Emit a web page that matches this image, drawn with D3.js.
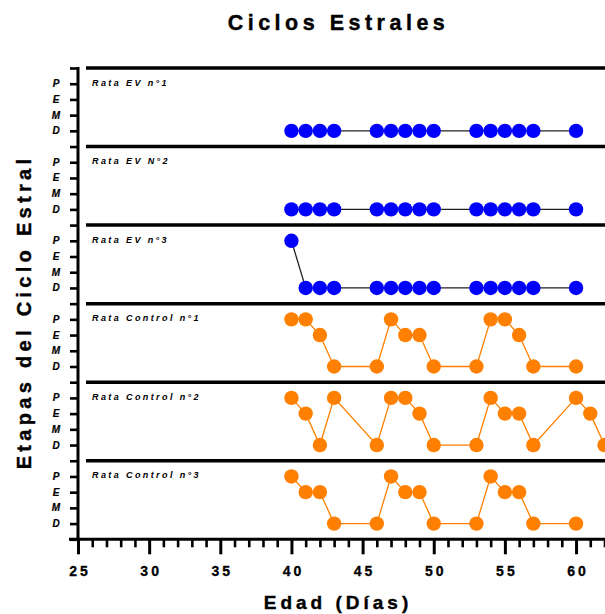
<!DOCTYPE html>
<html>
<head>
<meta charset="utf-8">
<script src="https://cdn.jsdelivr.net/npm/d3@7"></script>
<style>
html,body{margin:0;padding:0;background:#fff;}
svg{display:block;font-family:"Liberation Sans",Arial,sans-serif;}
</style>
</head>
<body>
<svg id="chart" width="605" height="614"></svg>
<script>
// ---- data ----
const panelNames = ["Rata EV n°1","Rata EV N°2","Rata EV n°3","Rata Control n°1","Rata Control n°2","Rata Control n°3"];
const stageLabels = ["D","M","E","P"];           // stage code 1..4
const xTickLabels = [25,30,35,40,45,50,55,60];

const daysEV1 = [40,41,42,43,46,47,48,49,50,53,54,55,56,57,60];
const stageEV1 = ["D","D","D","D","D","D","D","D","D","D","D","D","D","D","D"];
const daysEV2 = [40,41,42,43,46,47,48,49,50,53,54,55,56,57,60];
const stageEV2 = ["D","D","D","D","D","D","D","D","D","D","D","D","D","D","D"];
const daysEV3 = [40,41,42,43,46,47,48,49,50,53,54,55,56,57,60];
const stageEV3 = ["P","D","D","D","D","D","D","D","D","D","D","D","D","D","D"];
const daysC1 = [40,41,42,43,46,47,48,49,50,53,54,55,56,57,60];
const stageC1 = ["P","P","E","D","D","P","E","E","D","D","P","P","E","D","D"];
const daysC2 = [40,41,42,43,46,47,48,49,50,53,54,55,56,57,60,61,62];
const stageC2 = ["P","E","D","P","D","P","P","E","D","D","P","E","E","D","P","E","D"];
const daysC3 = [40,41,42,43,46,47,48,49,50,53,54,55,56,57,60];
const stageC3 = ["P","E","E","D","D","P","E","E","D","D","P","E","E","D","D"];

const seriesDays = [daysEV1,daysEV2,daysEV3,daysC1,daysC2,daysC3];
const seriesStages = [stageEV1,stageEV2,stageEV3,stageC1,stageC2,stageC3];
const pointColors = ["#0000ff","#0000ff","#0000ff","#ff8000","#ff8000","#ff8000"];
const lineColors = ["#222222","#222222","#222222","#ff8000","#ff8000","#ff8000"];

// ---- layout ----
const svg = d3.select("#chart");
const nPanels = panelNames.length;
const x = d3.scaleLinear().domain([25,62]).range([78,604.5]);
const y = d3.scaleLinear().domain([0,nPanels*5]).range([539.3,68]);
const yVal = (p,s)=> (nPanels-1-p)*5 + stageLabels.indexOf(s) + 1;

// separators
const seps = d3.range(1,nPanels+1).map(i=>i*5);
svg.append("g").selectAll("line").data(seps).join("line")
  .attr("x1",86).attr("x2",605)
  .attr("y1",d=>y(d)).attr("y2",d=>y(d))
  .attr("stroke","#000").attr("stroke-width",3.5);

// y axis
const yAxis = d3.axisLeft(y).tickValues(d3.range(0,nPanels*5+1)).tickSize(8).tickFormat("");
const gy = svg.append("g").attr("transform","translate(78,0)").call(yAxis);
gy.select(".domain").attr("stroke","#000").attr("stroke-width",3).attr("d",`M0,${y(30)-1}V${y(0)}`);
gy.selectAll(".tick line").attr("stroke","#000").attr("stroke-width",2.6);

// y stage labels
const yLab = [];
for(let p=0;p<nPanels;p++) stageLabels.forEach(s=>yLab.push({p,s}));
svg.append("g").selectAll("text").data(yLab).join("text")
  .attr("x",56).attr("y",d=>y(yVal(d.p,d.s))+3.5)
  .attr("text-anchor","middle")
  .attr("font-size",10).attr("font-weight","bold").attr("font-style","italic")
  .attr("stroke","#000").attr("stroke-width",0.2)
  .text(d=>d.s);

// x axis
const minorTicks = d3.range(25,63).filter(v=>v%5!==0);
const gxMinor = svg.append("g").attr("transform",`translate(0,${y(0)})`)
  .call(d3.axisBottom(x).tickValues(minorTicks).tickSize(8).tickFormat(""));
gxMinor.select(".domain").remove();
gxMinor.selectAll(".tick line").attr("stroke","#000").attr("stroke-width",2.6);
const gx = svg.append("g").attr("transform",`translate(0,${y(0)})`)
  .call(d3.axisBottom(x).tickValues(xTickLabels).tickSize(15).tickPadding(12).tickFormat(d3.format("d")));
gx.select(".domain").attr("stroke","#000").attr("stroke-width",3).attr("d",`M${x(25)-9},0H605`);
gx.selectAll(".tick line").attr("stroke","#000").attr("stroke-width",3);
gx.selectAll(".tick text").attr("font-size",14).attr("font-weight","bold")
  .attr("font-family","'Liberation Sans',Arial,sans-serif").attr("fill","#000")
  .attr("stroke","#000").attr("stroke-width",0.3)
  .attr("letter-spacing","3px").attr("dx","1.5px");

// panel labels
svg.append("g").selectAll("text").data(panelNames).join("text")
  .attr("x",92).attr("y",(d,i)=>y(yVal(i,"P"))+2)
  .attr("font-size",9).attr("font-weight","bold").attr("font-style","italic")
  .attr("letter-spacing","2.4px")
  .text(d=>d);

// series
seriesDays.forEach((days,i)=>{
  const pts = days.map((d,j)=>({x:d, y:yVal(i,seriesStages[i][j])}));
  const g = svg.append("g");
  g.append("path").datum(pts)
    .attr("fill","none").attr("stroke",lineColors[i]).attr("stroke-width",1.3)
    .attr("d",d3.line().x(d=>x(d.x)).y(d=>y(d.y)));
  g.selectAll("circle").data(pts).join("circle")
    .attr("cx",d=>x(d.x)).attr("cy",d=>y(d.y)).attr("r",7.2)
    .attr("fill",pointColors[i]);
});

// titles
svg.append("text").attr("x",338.5).attr("y",30).attr("text-anchor","middle")
  .attr("font-size",21.5).attr("font-weight","bold").attr("letter-spacing","4.5px")
  .attr("stroke","#000").attr("stroke-width",0.4)
  .text("Ciclos Estrales");
svg.append("text").attr("x",338).attr("y",609).attr("text-anchor","middle")
  .attr("font-size",19).attr("font-weight","bold").attr("letter-spacing","4px")
  .attr("stroke","#000").attr("stroke-width",0.4)
  .text("Edad (Días)");
svg.append("text").attr("transform","translate(31,312) rotate(-90)").attr("text-anchor","middle")
  .attr("font-size",20).attr("font-weight","bold").attr("letter-spacing","4.3px")
  .attr("stroke","#000").attr("stroke-width",0.4)
  .text("Etapas del Ciclo Estral");
</script>
</body>
</html>
